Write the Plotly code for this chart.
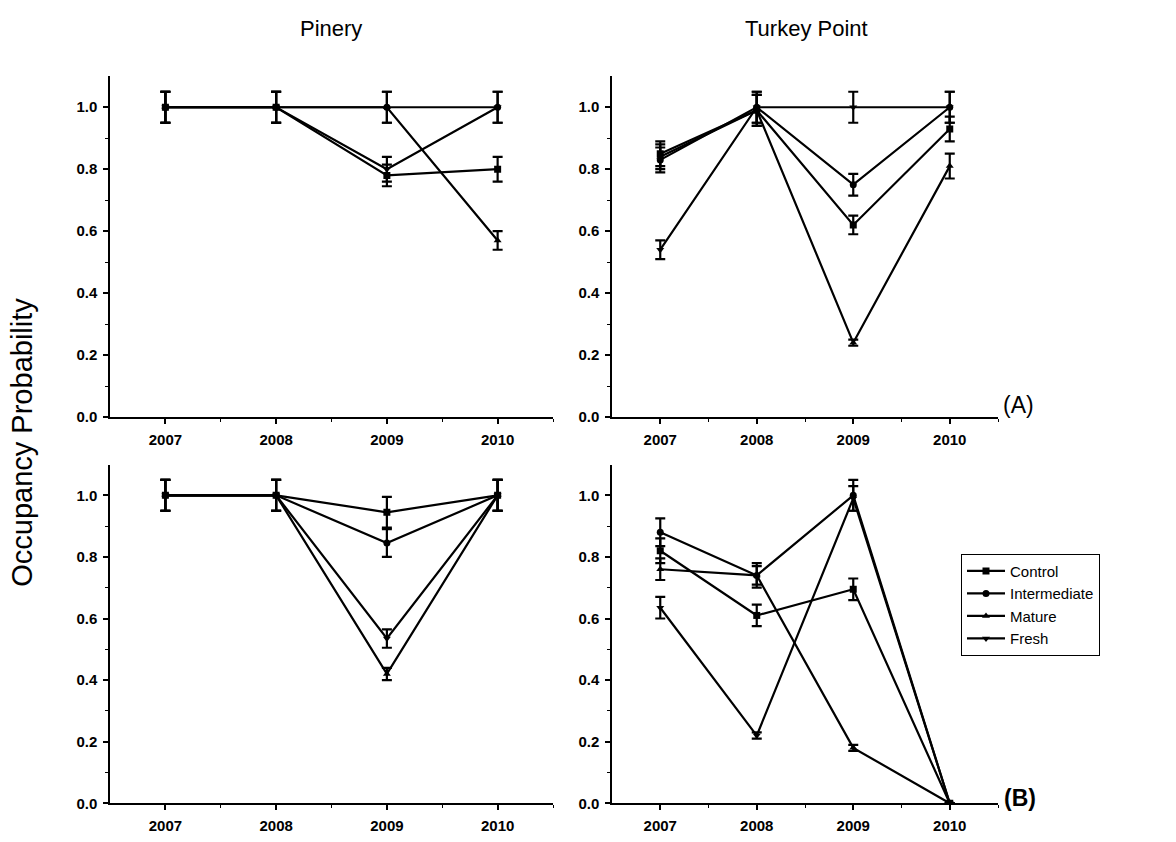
import plotly.graph_objects as go

years = [2007, 2008, 2009, 2010]
series_names = ["Control", "Intermediate", "Mature", "Fresh"]
series_symbols = ["square", "circle", "triangle-up", "triangle-down"]

# Pinery (A)
pinA_control = [1.0, 1.0, 0.78, 0.80]
pinA_control_err = [0.05, 0.05, 0.035, 0.04]
pinA_intermediate = [1.0, 1.0, 1.0, 1.0]
pinA_intermediate_err = [0.05, 0.05, 0.05, 0.05]
pinA_mature = [1.0, 1.0, 1.0, 0.57]
pinA_mature_err = [0.05, 0.05, 0.05, 0.03]
pinA_fresh = [1.0, 1.0, 0.80, 1.0]
pinA_fresh_err = [0.05, 0.05, 0.04, 0.05]

# Turkey Point (A)
tpA_control = [0.85, 0.99, 0.62, 0.93]
tpA_control_err = [0.04, 0.05, 0.03, 0.04]
tpA_intermediate = [0.83, 1.0, 0.75, 1.0]
tpA_intermediate_err = [0.04, 0.05, 0.035, 0.05]
tpA_mature = [0.84, 0.99, 0.24, 0.81]
tpA_mature_err = [0.04, 0.05, 0.01, 0.04]
tpA_fresh = [0.54, 1.0, 1.0, 1.0]
tpA_fresh_err = [0.03, 0.05, 0.05, 0.05]

# Pinery (B)
pinB_control = [1.0, 1.0, 0.945, 1.0]
pinB_control_err = [0.05, 0.05, 0.05, 0.05]
pinB_intermediate = [1.0, 1.0, 0.845, 1.0]
pinB_intermediate_err = [0.05, 0.05, 0.045, 0.05]
pinB_mature = [1.0, 1.0, 0.42, 1.0]
pinB_mature_err = [0.05, 0.05, 0.02, 0.05]
pinB_fresh = [1.0, 1.0, 0.535, 1.0]
pinB_fresh_err = [0.05, 0.05, 0.03, 0.05]

# Turkey Point (B)
tpB_control = [0.82, 0.61, 0.695, 0.0]
tpB_control_err = [0.04, 0.035, 0.035, 0.0]
tpB_intermediate = [0.88, 0.74, 1.0, 0.0]
tpB_intermediate_err = [0.045, 0.04, 0.05, 0.0]
tpB_mature = [0.76, 0.74, 0.18, 0.0]
tpB_mature_err = [0.035, 0.03, 0.01, 0.0]
tpB_fresh = [0.635, 0.22, 0.99, 0.0]
tpB_fresh_err = [0.035, 0.01, 0.04, 0.0]

y_tick_vals = [0.0, 0.2, 0.4, 0.6, 0.8, 1.0]
y_tick_text = ["0.0", "0.2", "0.4", "0.6", "0.8", "1.0"]
x_tick_text = ["2007", "2008", "2009", "2010"]

panels = [
    ("x", "y", [pinA_control, pinA_intermediate, pinA_mature, pinA_fresh],
     [pinA_control_err, pinA_intermediate_err, pinA_mature_err, pinA_fresh_err], False),
    ("x2", "y2", [tpA_control, tpA_intermediate, tpA_mature, tpA_fresh],
     [tpA_control_err, tpA_intermediate_err, tpA_mature_err, tpA_fresh_err], False),
    ("x3", "y3", [pinB_control, pinB_intermediate, pinB_mature, pinB_fresh],
     [pinB_control_err, pinB_intermediate_err, pinB_mature_err, pinB_fresh_err], False),
    ("x4", "y4", [tpB_control, tpB_intermediate, tpB_mature, tpB_fresh],
     [tpB_control_err, tpB_intermediate_err, tpB_mature_err, tpB_fresh_err], True),
]

FONT = "Liberation Sans, Arial, sans-serif"
fig = go.Figure()
for xa, ya, vals, errs, show in panels:
    for name, sym, v, e in zip(series_names, series_symbols, vals, errs):
        fig.add_trace(go.Scatter(
            x=years, y=v, xaxis=xa, yaxis=ya, name=name, mode="lines+markers",
            showlegend=show,
            line=dict(color="black", width=2.2),
            marker=dict(symbol=sym, size=7, color="black"),
            error_y=dict(type="data", array=e, visible=True, color="black",
                         thickness=2.2, width=5),
        ))

def xaxis_cfg(domain, anchor):
    return dict(domain=domain, anchor=anchor, range=[2006.5, 2010.5],
                tickvals=years, ticktext=x_tick_text, ticks="outside", ticklen=5,
                tickwidth=1.5, tickcolor="black", showline=True, linecolor="black",
                linewidth=1.5, showgrid=False, zeroline=False, ticklabelstandoff=3,
                tickfont=dict(family=FONT, size=15, color="black", weight="bold"),
                minor=dict(tickvals=[2007.5, 2008.5, 2009.5, 2010.5], ticks="outside",
                           ticklen=3, tickwidth=1, tickcolor="black", showgrid=False))

def yaxis_cfg(domain, anchor):
    return dict(domain=domain, anchor=anchor, range=[0, 1.1],
                tickvals=y_tick_vals, ticktext=y_tick_text, ticks="outside", ticklen=5,
                tickwidth=1.5, tickcolor="black", showline=True, linecolor="black",
                linewidth=1.5, showgrid=False, zeroline=False, ticklabelstandoff=3,
                tickfont=dict(family=FONT, size=15, color="black", weight="bold"),
                minor=dict(tickvals=[0.1, 0.3, 0.5, 0.7, 0.9], ticks="outside",
                           ticklen=3, tickwidth=1, tickcolor="black", showgrid=False))

W, H = 1176, 842
lx = [110 / W, 553 / W]
rx = [612 / W, 998 / W]
ty = [1 - 421 / H, 1 - 77 / H]
by = [1 - 811 / H, 1 - 469 / H]

fig.update_layout(
    width=W, height=H, margin=dict(l=0, r=0, t=0, b=0),
    paper_bgcolor="white", plot_bgcolor="white",
    font=dict(family=FONT, color="black"),
    xaxis=xaxis_cfg(lx, "y"), yaxis=yaxis_cfg(ty, "x"),
    xaxis2=xaxis_cfg(rx, "y2"), yaxis2=yaxis_cfg(ty, "x2"),
    xaxis3=xaxis_cfg(lx, "y3"), yaxis3=yaxis_cfg(by, "x3"),
    xaxis4=xaxis_cfg(rx, "y4"), yaxis4=yaxis_cfg(by, "x4"),
    legend=dict(x=961 / W, y=1 - 559 / H, xanchor="left", yanchor="top",
                bgcolor="white", bordercolor="black", borderwidth=1,
                font=dict(family=FONT, size=15, color="black"),
                tracegroupgap=0, itemwidth=38),
    showlegend=True,
    annotations=[
        dict(text="Pinery", x=331 / W, y=1 - 29 / H, xref="paper", yref="paper",
             xanchor="center", yanchor="middle",
             showarrow=False, font=dict(size=22, family=FONT)),
        dict(text="Turkey Point", x=806 / W, y=1 - 29 / H, xref="paper", yref="paper",
             xanchor="center", yanchor="middle",
             showarrow=False, font=dict(size=22, family=FONT)),
        dict(text="Occupancy Probability", x=22 / W, y=1 - 447 / H, xref="paper",
             yref="paper", xanchor="center", yanchor="middle", showarrow=False,
             textangle=-90, font=dict(size=29, family=FONT)),
        dict(text="(A)", x=1018 / W, y=1 - 409 / H, xref="paper", yref="paper",
             xanchor="center", yanchor="middle",
             showarrow=False, font=dict(size=23, family=FONT)),
        dict(text="<b>(B)</b>", x=1020 / W, y=1 - 806 / H, xref="paper", yref="paper",
             xanchor="center", yanchor="middle",
             showarrow=False, font=dict(size=23, family=FONT)),
    ],
)

fig.write_html("out.html")
